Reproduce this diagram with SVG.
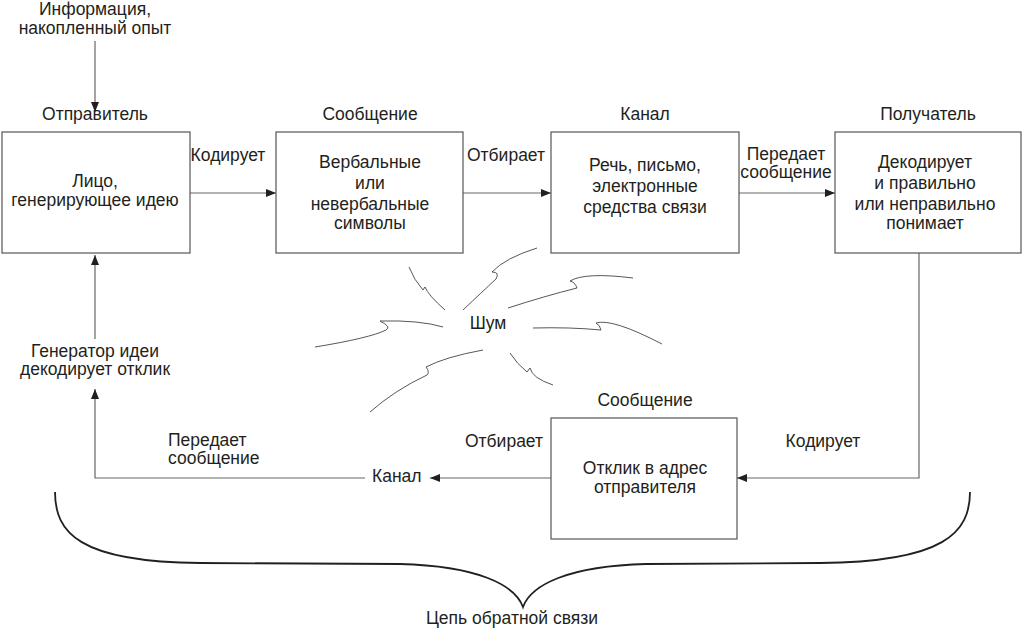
<svg xmlns="http://www.w3.org/2000/svg" width="1023" height="633" viewBox="0 0 1023 633">
<defs>
<marker id="ah" viewBox="0 0 10 10" refX="10" refY="5" markerWidth="10" markerHeight="10" markerUnits="userSpaceOnUse" orient="auto">
<path d="M0,1 L10,5 L0,9 Z" fill="#231f20"/>
</marker>
<style>
text{font-family:"Liberation Sans",Arial,sans-serif;font-size:17.5px;fill:#231f20;}
.c{text-anchor:middle;}
.box{fill:#fff;stroke:#555;stroke-width:1.2;}
.ln{fill:none;stroke:#666;stroke-width:1.2;}
.sq{fill:none;stroke:#444;stroke-width:0.9;}
</style>
</defs>
<rect width="1023" height="633" fill="#fff"/>

<g id="connectors">
<path class="ln" d="M95,41 V112" marker-end="url(#ah)"/>
<path class="ln" d="M190,193 H276" marker-end="url(#ah)"/>
<path class="ln" d="M463,193 H551" marker-end="url(#ah)"/>
<path class="ln" d="M739,193 H835" marker-end="url(#ah)"/>
<path class="ln" d="M919,253 V478 H737" marker-end="url(#ah)"/>
<path class="ln" d="M551,478 H430" marker-end="url(#ah)"/>
<path class="ln" d="M365,478 H95 V389" marker-end="url(#ah)"/>
<path class="ln" d="M95,339 V255" marker-end="url(#ah)"/>
</g>

<g id="top-labels">
<text class="c" x="95" y="15">Информация,</text>
<text class="c" x="95" y="33.5">накопленный опыт</text>
</g>

<g id="sender">
<text class="c" x="95" y="120">Отправитель</text>
<rect class="box" x="2" y="132" width="188" height="121"/>
<text class="c" x="95" y="187">Лицо,</text>
<text class="c" x="95" y="206">генерирующее идею</text>
</g>

<g id="message">
<text class="c" x="370" y="120">Сообщение</text>
<rect class="box" x="276" y="132" width="187" height="121"/>
<text class="c" x="370" y="168">Вербальные</text>
<text class="c" x="370" y="189">или</text>
<text class="c" x="370" y="210">невербальные</text>
<text class="c" x="370" y="229">символы</text>
</g>

<g id="channel">
<text class="c" x="645" y="120">Канал</text>
<rect class="box" x="551" y="132" width="188" height="121"/>
<text class="c" x="645" y="171">Речь, письмо,</text>
<text class="c" x="645" y="192">электронные</text>
<text class="c" x="645" y="213">средства связи</text>
</g>

<g id="receiver">
<text class="c" x="928" y="120">Получатель</text>
<rect class="box" x="835" y="132" width="186" height="121"/>
<text class="c" x="925" y="168">Декодирует</text>
<text class="c" x="925" y="189">и правильно</text>
<text class="c" x="925" y="210">или неправильно</text>
<text class="c" x="925" y="229">понимает</text>
</g>

<g id="edge-labels">
<text class="c" x="228" y="161">Кодирует</text>
<text class="c" x="506" y="161">Отбирает</text>
<text class="c" x="786" y="160">Передает</text>
<text class="c" x="786" y="178">сообщение</text>
<text class="c" x="823" y="447">Кодирует</text>
<text class="c" x="504" y="447">Отбирает</text>
<text x="372" y="482">Канал</text>
<text x="168" y="446">Передает</text>
<text x="168" y="464">сообщение</text>
<text class="c" x="95" y="357">Генератор идеи</text>
<text class="c" x="95" y="375">декодирует отклик</text>
</g>

<g id="response">
<text class="c" x="645" y="406">Сообщение</text>
<rect class="box" x="551" y="418" width="186" height="121"/>
<text class="c" x="645" y="474">Отклик в адрес</text>
<text class="c" x="645" y="493">отправителя</text>
</g>

<g id="noise">
<text class="c" x="488" y="329">Шум</text>
<path class="sq" d="M409,267 Q414,280 423,290 L425,287 Q428,295 445,310"/>
<path class="sq" d="M463,310 Q482,292 496,279 Q500,272 492,272 Q505,258 537,248"/>
<path class="sq" d="M508,308 Q545,296 577,288 Q575,282 570,281 Q585,272 633,278"/>
<path class="sq" d="M533,328 Q570,327 601,330 Q600,325 596,323 Q612,318 662,344"/>
<path class="sq" d="M443,327 Q420,320 380,321 Q392,327 386,330 Q370,338 315,347"/>
<path class="sq" d="M483,350 Q445,357 426,367 Q430,372 427,375 Q395,390 370,412"/>
<path class="sq" d="M510,353 Q517,364 527,372 L530,368 Q532,378 553,385"/>
</g>

<g id="feedback">
<path d="M55,492 C55,532 78,562 200,563 L400,564 C478,566 515,585 523,607 C531,585 568,566 646,564 L820,563 C945,562 970,532 970,492" fill="none" stroke="#231f20" stroke-width="1.8"/>
<text class="c" x="512" y="624">Цепь обратной связи</text>
</g>
</svg>
